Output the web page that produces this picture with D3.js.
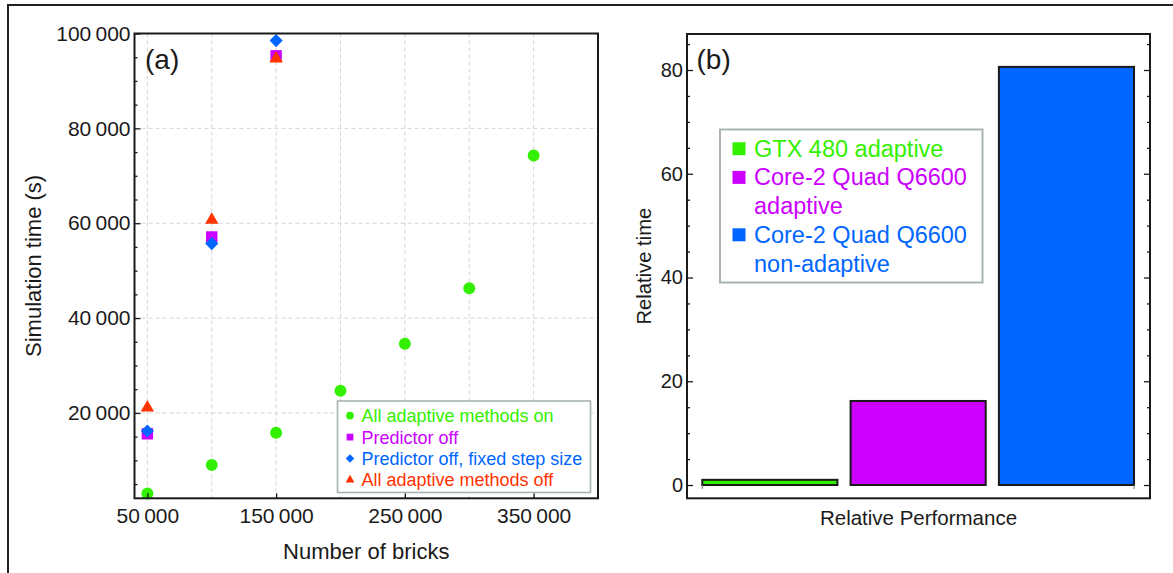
<!DOCTYPE html>
<html>
<head>
<meta charset="utf-8">
<script src="https://cdn.jsdelivr.net/npm/d3@7"></script>
<style>
  html, body { margin: 0; padding: 0; background: #fff; }
  svg { display: block; font-family: "Liberation Sans", Arial, Helvetica, sans-serif; }
</style>
</head>
<body>
<script>
// ---- Panel (a): simulation time vs. number of bricks ----
const bricks = [50000, 100000, 150000, 200000, 250000, 300000, 350000];
const adaptiveOn = [3000, 9000, 15800, 24700, 34600, 46300, 74300];
const fewBricks = [50000, 100000, 150000];
const predictorOff = [15600, 57100, 95300];
const predictorOffFixedStep = [16200, 55700, 98500];
const adaptiveOff = [21100, 60700, 94700];
const brickTicks = [50000, 150000, 250000, 350000];
const brickGrid = [50000, 100000, 150000, 200000, 250000, 300000, 350000];
const timeTicks = [20000, 40000, 60000, 80000, 100000];
const timeMinorTicks = d3.range(5000, 100001, 5000);
const seriesNames = ["All adaptive methods on", "Predictor off",
                     "Predictor off, fixed step size", "All adaptive methods off"];

// ---- Panel (b): relative time per platform ----
const platforms = ["GTX 480 adaptive", "Core-2 Quad Q6600 adaptive", "Core-2 Quad Q6600 non-adaptive"];
const platformLegendLines = [["GTX 480 adaptive"], ["Core-2 Quad Q6600", "adaptive"], ["Core-2 Quad Q6600", "non-adaptive"]];
const relativeTime = [1, 16.2, 80.6];
const relTicks = [0, 20, 40, 60, 80];
const relMinorTicks = d3.range(0, 86, 5);

const GREEN = "#33f000", MAGENTA = "#cc00ff", BLUE = "#0066ff", RED = "#ff3300";
const INK = "#1a1a1a";
const FRAME_W = 2;

const W = 1173, H = 573;
const svg = d3.select("body").append("svg").attr("width", W).attr("height", H);
svg.append("rect").attr("width", W).attr("height", H).attr("fill", "#fff");

// figure border (top and left edges show inside the canvas)
svg.append("rect").attr("x", 8).attr("y", 5).attr("width", W + 50).attr("height", H + 50)
  .attr("fill", "none").attr("stroke", "#231f20").attr("stroke-width", 2);

const fmt = d => d3.format(",")(d).replace(/,/g, "\u2009");

// ===================== Panel (a) =====================
const A = { left: 134.5, right: 598, top: 33.5, bottom: 498.3 };
const xA = d3.scaleLinear().domain([40000, 400000]).range([A.left, A.right]);
const yA = d3.scaleLinear().domain([2000, 100000]).range([A.bottom, A.top]);

const gA = svg.append("g");

// dashed grid
gA.append("g").selectAll("line").data(brickGrid).join("line")
  .attr("x1", d => xA(d)).attr("x2", d => xA(d))
  .attr("y1", A.top).attr("y2", A.bottom)
  .attr("stroke", "#d4d4d4").attr("stroke-width", 1).attr("stroke-dasharray", "4,3");
gA.append("g").selectAll("line").data(timeTicks.slice(0, 4)).join("line")
  .attr("x1", A.left).attr("x2", A.right)
  .attr("y1", d => yA(d)).attr("y2", d => yA(d))
  .attr("stroke", "#d4d4d4").attr("stroke-width", 1).attr("stroke-dasharray", "4,3");

const sym = (type, size, rot) => {
  const p = d3.symbol().type(type).size(size)();
  return p;
};

// series markers, drawn in series order
const series = [
  { xs: bricks, ys: adaptiveOn, color: GREEN, type: d3.symbolCircle, size: 113, rot: 0 },
  { xs: fewBricks, ys: predictorOff, color: MAGENTA, type: d3.symbolSquare, size: 130, rot: 0 },
  { xs: fewBricks, ys: predictorOffFixedStep, color: BLUE, type: d3.symbolSquare, size: 86, rot: 45 },
  { xs: fewBricks, ys: adaptiveOff, color: RED, type: d3.symbolTriangle, size: 78, rot: 0 }
];
series.forEach(s => {
  gA.append("g").selectAll("path").data(s.xs.map((x, i) => [x, s.ys[i]])).join("path")
    .attr("d", d3.symbol().type(s.type).size(s.size))
    .attr("transform", d => `translate(${xA(d[0])},${yA(d[1])}) rotate(${s.rot})`)
    .attr("fill", s.color);
});

// axes (ticks point inward)
const axLeftA = gA.append("g").attr("transform", `translate(${A.left},0)`)
  .call(d3.axisLeft(yA).tickValues(timeTicks).tickSize(-6).tickPadding(4).tickFormat(fmt));
gA.append("g").attr("transform", `translate(${A.left},0)`)
  .call(d3.axisLeft(yA).tickValues(timeMinorTicks.filter(d => d % 20000 !== 0)).tickSize(-3).tickFormat(""));
const axBottomA = gA.append("g").attr("transform", `translate(0,${A.bottom})`)
  .call(d3.axisBottom(xA).tickValues(brickTicks).tickSize(-5).tickPadding(10).tickFormat(fmt));
gA.selectAll(".domain").remove();
gA.selectAll(".tick line").attr("stroke", INK).attr("stroke-width", 1.3);
gA.selectAll(".tick text").attr("font-size", 21).attr("fill", INK)
  .attr("font-family", '"Liberation Sans", Arial, Helvetica, sans-serif');

gA.append("rect").attr("x", A.left).attr("y", A.top)
  .attr("width", A.right - A.left).attr("height", A.bottom - A.top)
  .attr("fill", "none").attr("stroke", INK).attr("stroke-width", FRAME_W);

gA.append("text").attr("x", 145).attr("y", 68.5).attr("font-size", 28).attr("fill", INK).text("(a)");

gA.append("text").attr("x", (A.left + A.right) / 2).attr("y", 559)
  .attr("text-anchor", "middle").attr("font-size", 22).attr("fill", INK).text("Number of bricks");
gA.append("text").attr("transform", `translate(41,${(A.top + A.bottom) / 2}) rotate(-90)`)
  .attr("text-anchor", "middle").attr("font-size", 22).attr("fill", INK).text("Simulation time (s)");

// legend (a)
const legA = gA.append("g");
legA.append("rect").attr("x", 337.5).attr("y", 401).attr("width", 253).attr("height", 91.5)
  .attr("fill", "#fff").attr("stroke", "#a9b3b3").attr("stroke-width", 1.6);
const legSizes = [46, 46, 36, 34];
series.forEach((s, i) => {
  const cy = 415.7 + i * 21.4;
  legA.append("path")
    .attr("d", d3.symbol().type(s.type).size(legSizes[i])())
    .attr("transform", `translate(350,${cy}) rotate(${s.rot})`)
    .attr("fill", s.color);
  legA.append("text").attr("x", 361.5).attr("y", cy + 6.4)
    .attr("font-size", 18).attr("fill", s.color).text(seriesNames[i]);
});

// ===================== Panel (b) =====================
const B = { left: 687, right: 1150, top: 34, bottom: 498.3 };
const yB = d3.scaleLinear().domain([-2.56, 86.94]).range([B.bottom, B.top]);
const xB = d3.scaleBand().domain(platforms).range([695.7, 1140.6])
  .paddingInner(0.0888).paddingOuter(0.0444);
const barColors = [GREEN, MAGENTA, BLUE];

const gB = svg.append("g");

gB.append("g").selectAll("rect").data(platforms).join("rect")
  .attr("x", d => xB(d)).attr("width", xB.bandwidth())
  .attr("y", (d, i) => yB(relativeTime[i]))
  .attr("height", (d, i) => yB(0) - yB(relativeTime[i]))
  .attr("fill", (d, i) => barColors[i])
  .attr("stroke", INK).attr("stroke-width", 2);

// small base-line ticks at the ends of the bar row
const baseEnds = [xB(platforms[0]), xB(platforms[2]) + xB.bandwidth()];
gB.append("g").selectAll("line").data(baseEnds).join("line")
  .attr("x1", d => d).attr("x2", d => d)
  .attr("y1", yB(0)).attr("y2", yB(0) + 4)
  .attr("stroke", "#777").attr("stroke-width", 1);

gB.append("g").attr("transform", `translate(${B.left},0)`)
  .call(d3.axisLeft(yB).tickValues(relTicks).tickSize(-6).tickPadding(4).tickFormat(d3.format("d")));
gB.append("g").attr("transform", `translate(${B.left},0)`)
  .call(d3.axisLeft(yB).tickValues(relMinorTicks.filter(d => d % 20 !== 0)).tickSize(-3).tickFormat(""));
gB.append("g").attr("transform", `translate(${B.right},0)`)
  .call(d3.axisRight(yB).tickValues(relTicks).tickSize(-6).tickFormat(""));
gB.append("g").attr("transform", `translate(${B.right},0)`)
  .call(d3.axisRight(yB).tickValues(relMinorTicks.filter(d => d % 20 !== 0)).tickSize(-3).tickFormat(""));
gB.selectAll(".domain").remove();
gB.selectAll(".tick line").attr("stroke", INK).attr("stroke-width", 1.3);
gB.selectAll(".tick text").attr("font-size", 20).attr("fill", INK)
  .attr("font-family", '"Liberation Sans", Arial, Helvetica, sans-serif');

gB.append("rect").attr("x", B.left).attr("y", B.top)
  .attr("width", B.right - B.left).attr("height", B.bottom - B.top)
  .attr("fill", "none").attr("stroke", INK).attr("stroke-width", FRAME_W);

gB.append("text").attr("x", 696.5).attr("y", 69).attr("font-size", 28).attr("fill", INK).text("(b)");

gB.append("text").attr("x", (B.left + B.right) / 2).attr("y", 525)
  .attr("text-anchor", "middle").attr("font-size", 20.5).attr("fill", INK).text("Relative Performance");
gB.append("text").attr("transform", `translate(651,${(B.top + B.bottom) / 2}) rotate(-90)`)
  .attr("text-anchor", "middle").attr("font-size", 20.2).attr("fill", INK).text("Relative time");

// legend (b)
const legB = gB.append("g");
legB.append("rect").attr("x", 720).attr("y", 129.5).attr("width", 262.5).attr("height", 153)
  .attr("fill", "#fff").attr("stroke", "#a9b3b3").attr("stroke-width", 2);
let line = 0;
platformLegendLines.forEach((lines, i) => {
  const base = 156.7 + line * 28.7;
  legB.append("rect").attr("x", 732.5).attr("y", base - 14.5).attr("width", 13).attr("height", 13)
    .attr("fill", barColors[i]);
  lines.forEach((t, j) => {
    legB.append("text").attr("x", 754).attr("y", base + j * 28.7)
      .attr("font-size", 23.5).attr("fill", barColors[i]).text(t);
  });
  line += lines.length;
});
</script>
</body>
</html>
